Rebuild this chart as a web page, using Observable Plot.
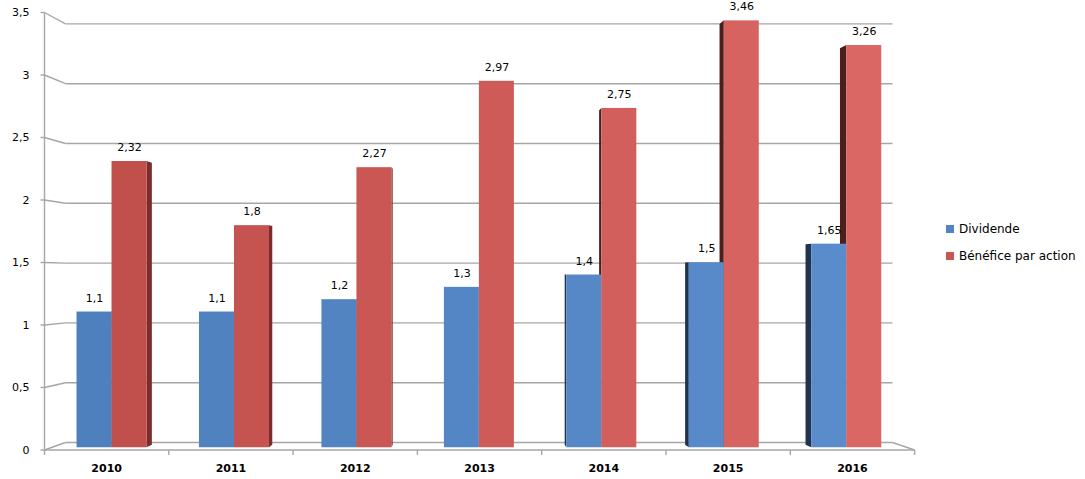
<!DOCTYPE html>
<html><head><meta charset="utf-8">
<script src="https://cdn.jsdelivr.net/npm/d3@7"></script>
<script src="https://cdn.jsdelivr.net/npm/@observablehq/plot@0.6"></script>
<style>
html,body{margin:0;padding:0;background:#fff;}
#wrap{position:relative;width:1085px;height:479px;overflow:hidden;}
.legend{position:absolute;left:946px;top:215px;font:12px "DejaVu Sans",sans-serif;color:#000;}
.legend .row{display:flex;align-items:center;height:27px;white-space:nowrap;}
.legend .sw{width:8px;height:8px;margin-right:5px;display:inline-block;}
</style></head><body><div id="wrap"></div>
<script>
// ---- data ----
const years = ["2010","2011","2012","2013","2014","2015","2016"];
const dividende = [1.1, 1.1, 1.2, 1.3, 1.4, 1.5, 1.65];
const benefice = [2.32, 1.8, 2.27, 2.97, 2.75, 3.46, 3.26];
const seriesNames = ["Dividende", "Bénéfice par action"];
const yTicks = [0, 0.5, 1, 1.5, 2, 2.5, 3, 3.5];
const yTickLabels = ["0", "0,5", "1", "1,5", "2", "2,5", "3", "3,5"];

// ---- 3D-look geometry (back wall d=0, front edge d=1) ----
const BACK = {x0: 65, sx: 118.14, y0: 442, sy: 119.6};
const FRONT = {x0: 44, sx: 124.3, y0: 449.5, sy: 125};
const FACE = 0.7, REAR = 0.37;
const lerp = (a, b, t) => a + (b - a) * t;
const plane = d => ({x0: lerp(BACK.x0, FRONT.x0, d), sx: lerp(BACK.sx, FRONT.sx, d),
                     y0: lerp(BACK.y0, FRONT.y0, d), sy: lerp(BACK.sy, FRONT.sy, d)});
const P = plane(FACE);
const U = (u, d) => { const p = plane(d); return (p.x0 + p.sx * u - P.x0) / P.sx; };
const V = (v, d) => { const p = plane(d); return (P.y0 - (p.y0 - p.sy * v)) / P.sy; };
const N = years.length, YMAX = 3.5;
const HW = 35 / P.sx;

const blueC = d3.interpolateRgb("#4E80BE", "#5A8BCB");
const redC = d3.interpolateRgb("#C14F4C", "#DB6764");
const fmt = v => String(v).replace(".", ",");

const bars = [];
years.forEach((yr, i) => {
  const c = i + 0.5;
  bars.push({year: yr, i, s: 0, value: dividende[i], u1: c - HW, u2: c});
  bars.push({year: yr, i, s: 1, value: benefice[i], u1: c, u2: c + HW});
});

const sides = [];
bars.forEach((b, k) => {
  let uf, ub, right;
  if (U(b.u2, REAR) > b.u2 + 0.002) { uf = b.u2; ub = U(b.u2, REAR); right = true; }
  else if (U(b.u1, REAR) < b.u1 - 0.002) { uf = b.u1; ub = U(b.u1, REAR); right = false; }
  else return;
  const fill = b.s === 1 ? (right ? "#7A2D2B" : "#4C1F1D") : (right ? "#2B4A75" : "#1F3350");
  sides.push({k, fill, x: uf, y1: 0, y2: b.value});
  sides.push({k, fill, x: ub, y1: V(0, REAR), y2: V(b.value, REAR)});
});

const gridBack = yTicks.map(t => ({x1: U(0, 0), x2: U(N, 0), y1: V(t, 0), y2: V(t, 0)}));
const gridDiag = yTicks.map(t => ({x1: U(0, 1), x2: U(0, 0), y1: V(t, 1), y2: V(t, 0)}));
const yTickMarks = yTicks.map(t => ({x1: U(0, 1) - 4 / P.sx, x2: U(0, 1), y1: V(t, 1), y2: V(t, 1)}));
const frame = [
  {x1: U(0, 1), x2: U(0, 1), y1: V(0, 1), y2: V(YMAX, 1)},
  {x1: U(0, 1), x2: U(N, 1), y1: V(0, 1), y2: V(0, 1)},
  {x1: U(N, 0), x2: U(N, 1), y1: V(0, 0), y2: V(0, 1)}
];
const xTickMarks = d3.range(N + 1).map(k => ({x1: U(k, 1), x2: U(k, 1), y1: V(0, 1), y2: V(0, 1) - 5 / P.sy}));

const GRID = "#A6A6A6";
const chart = Plot.plot({
  width: 1085, height: 479, margin: 0,
  x: {type: "linear", domain: [0, N], range: [P.x0, P.x0 + N * P.sx], axis: null},
  y: {type: "linear", domain: [0, YMAX], range: [P.y0, P.y0 - YMAX * P.sy], axis: null},
  color: {type: "identity"},
  style: {fontFamily: "DejaVu Sans, sans-serif", background: "#fff", color: "#000"},
  marks: [
    Plot.link(gridBack, {x1: "x1", x2: "x2", y1: "y1", y2: "y2", stroke: GRID, strokeWidth: 1.4}),
    Plot.link(gridDiag, {x1: "x1", x2: "x2", y1: "y1", y2: "y2", stroke: GRID, strokeWidth: 1.4}),
    Plot.link(yTickMarks, {x1: "x1", x2: "x2", y1: "y1", y2: "y2", stroke: GRID, strokeWidth: 1.4}),
    Plot.link(frame, {x1: "x1", x2: "x2", y1: "y1", y2: "y2", stroke: GRID, strokeWidth: 1.4}),
    Plot.link(xTickMarks, {x1: "x1", x2: "x2", y1: "y1", y2: "y2", stroke: GRID, strokeWidth: 1.4}),
    Plot.areaY(sides, {x: "x", y1: "y1", y2: "y2", z: "k", fill: "fill", curve: "linear"}),
    Plot.rect(bars, {x1: "u1", x2: "u2", y1: 0, y2: "value",
      fill: b => b.s === 0 ? blueC(b.i / (N - 1)) : redC(b.i / (N - 1))}),
    Plot.text(bars, {x: b => (b.u1 + b.u2) / 2, y: "value", text: b => fmt(b.value), dy: -14, fontSize: 11, fill: "#000"}),
    Plot.text(yTicks, {x: () => U(0, 1), y: t => V(t, 1), text: (t, i) => yTickLabels[i], textAnchor: "end", dx: -15, fontSize: 11, fill: "#000"}),
    Plot.text(years, {x: (d, i) => U(i + 0.5, 1), y: () => V(0, 1), text: d => d, dy: 18, fontSize: 11, fontWeight: "bold", fill: "#000"})
  ]
});
const wrap = document.getElementById("wrap");
wrap.appendChild(chart);

const legend = document.createElement("div");
legend.className = "legend";
const legendColors = [blueC(0.3), redC(0.3)];
seriesNames.forEach((name, i) => {
  const row = document.createElement("div");
  row.className = "row";
  const sw = document.createElement("span");
  sw.className = "sw";
  sw.style.background = legendColors[i];
  row.appendChild(sw);
  row.appendChild(document.createTextNode(name));
  legend.appendChild(row);
});
wrap.appendChild(legend);
</script></body></html>
